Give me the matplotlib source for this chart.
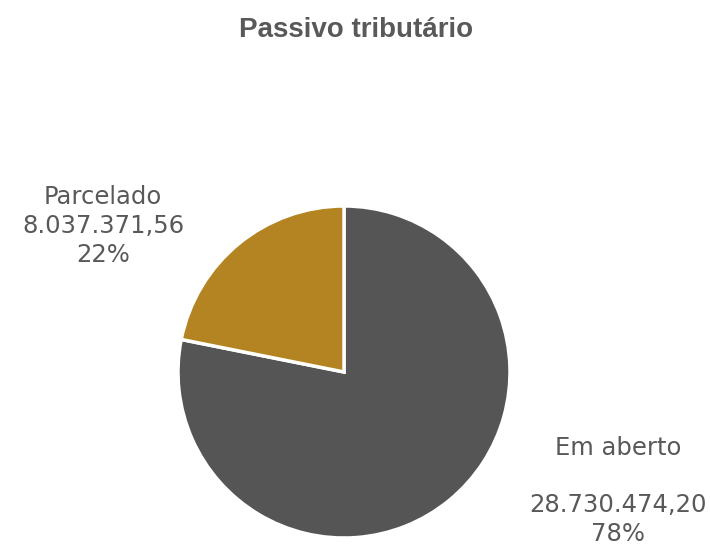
import matplotlib
matplotlib.use("Agg")
import matplotlib.pyplot as plt

categories = ["Em aberto", "Parcelado"]
values = [28730474.20, 8037371.56]
value_labels = ["28.730.474,20", "8.037.371,56"]
percent_labels = ["78%", "22%"]
colors = ["#555555", "#B38421"]
title = "Passivo tributário"

W, H = 710, 546
fig = plt.figure(figsize=(W / 100, H / 100), dpi=100)
ax = fig.add_axes([0, 0, 1, 1])
ax.pie(values, colors=colors, startangle=90, counterclock=False,
       center=(344, H - 372), radius=166,
       wedgeprops=dict(edgecolor="white", linewidth=2.5))
ax.set_xlim(0, W)
ax.set_ylim(0, H)
ax.set_aspect("equal")
ax.axis("off")

txt = "#595959"
ax.text(356, H - 30, title, ha="center", va="center", fontsize=20,
        fontweight="bold", color=txt, family="Liberation Sans")
ax.text(103, H - 226, f"{categories[1]}\n{value_labels[1]}\n{percent_labels[1]}",
        ha="center", va="center", fontsize=17.5, color=txt, linespacing=1.25)
ax.text(618, H - 491, f"{categories[0]}\n\n{value_labels[0]}\n{percent_labels[0]}",
        ha="center", va="center", fontsize=17.5, color=txt, linespacing=1.25)

fig.savefig("out.png", dpi=100)
